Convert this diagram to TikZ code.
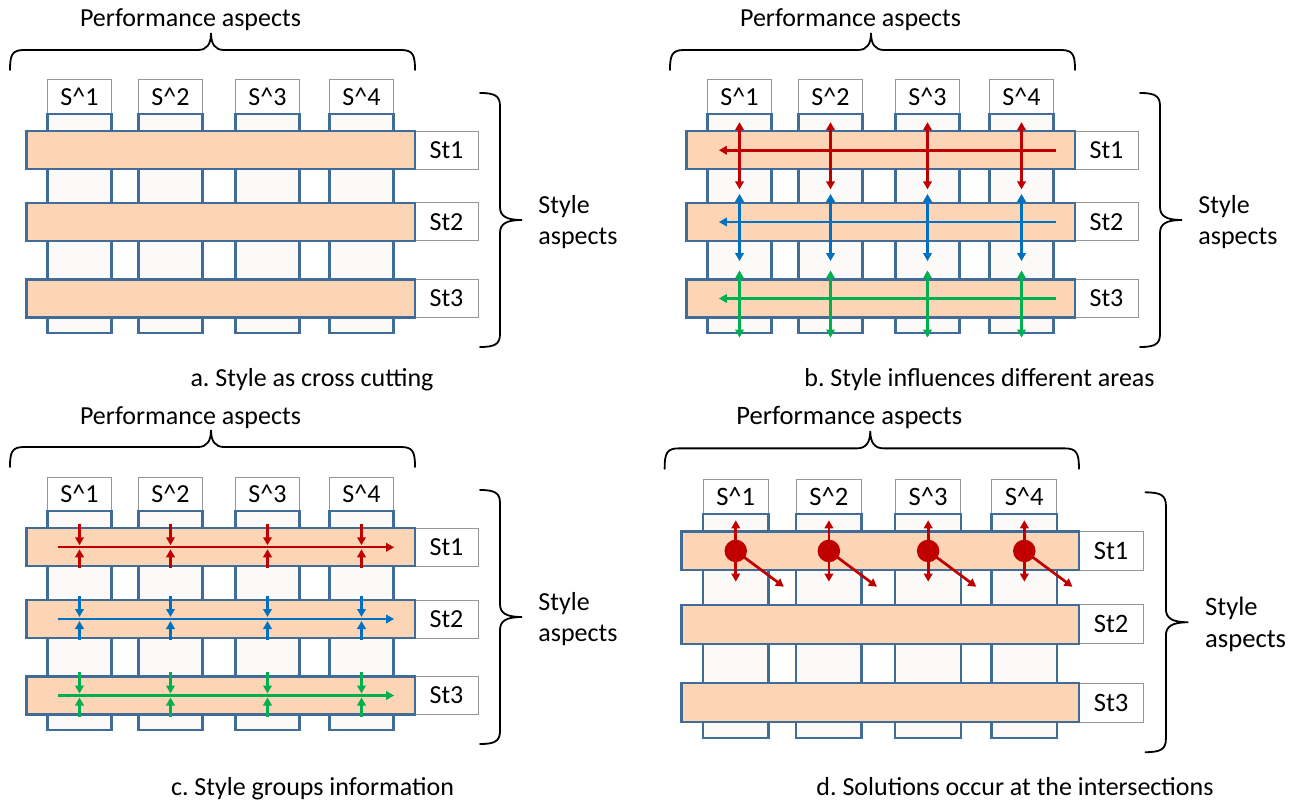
\documentclass[tikz,border=0pt]{standalone}
\usepackage{fontspec}
\setmainfont{Carlito}
\usepackage{tikz}
\usetikzlibrary{calc, arrows.meta}
\definecolor{peach}{RGB}{251, 213, 181}
\definecolor{rim}{RGB}{65, 108, 152}
\definecolor{pale}{RGB}{251, 250, 248}
\definecolor{frame}{RGB}{150, 150, 150}
\definecolor{redarr}{RGB}{192, 0, 0}
\definecolor{bluearr}{RGB}{0, 112, 192}
\definecolor{greenarr}{RGB}{0, 176, 80}

\tikzset{
  every node/.style={font=\fontsize{26}{31}\selectfont\frenchspacing, inner sep=0pt},
  sbox/.style={draw=frame, line width=1pt, fill=white, minimum width=64pt, minimum height=34pt},
  colbox/.style={draw=rim, line width=2.2pt, fill=pale, minimum width=64pt, minimum height=219pt},
  stbox/.style={draw=frame, line width=1pt, fill=white, minimum width=63pt, minimum height=38pt},
  rowbox/.style={draw=rim, line width=2.2pt, fill=peach, minimum width=388.5pt, minimum height=38pt},
  brace/.style={line width=1.8pt, line cap=round},
  flow/.style={line width=2.7pt, -{Triangle[length=8pt, width=8.5pt]}},
  both/.style={line width=2.7pt, {Triangle[length=8pt, width=8.5pt]}-{Triangle[length=8pt, width=8.5pt]}},
  dot/.style={circle, fill=redarr, minimum size=22pt}
}

% columns S^1..S^4 woven with rows St1..St3, plus both braces
\newcommand{\panelbase}{%
  \foreach \x [count=\i] in {79.5, 170.5, 267.5, 361.5} {
    \node[sbox] (s\i) at (\x, 97) {S\textasciicircum\i};
    \node[colbox] (c\i) at (\x, 223.5) {};
  }
  \foreach \y [count=\j] in {150.25, 222, 298.5} {
    \node[stbox] (st\j) at (446.5, \y) {St\j};
    \node[rowbox] (r\j) at (220.75, \y) {};
  }
  \draw[brace] (10, 70) .. controls (10, 55) and (12, 50) .. (24, 50) -- (198, 50)
    .. controls (207, 50) and (211, 44) .. (211, 33)
    .. controls (211, 44) and (215, 50) .. (224, 50) -- (401, 50)
    .. controls (413, 50) and (415, 55) .. (415, 70);
  \node[anchor=base] (perf) at (190.5, 27) {Performance aspects};
  \draw[brace] (480, 93) .. controls (495, 93) and (500, 96) .. (500, 106) -- (500, 207)
    .. controls (500, 216) and (506, 220) .. (522, 220)
    .. controls (506, 220) and (500, 224) .. (500, 233) -- (500, 334)
    .. controls (500, 344) and (495, 347) .. (480, 347);
  \node[align=left, anchor=west] (sty) at (538, 222) {Style\\aspects};
}

\begin{document}
\begin{tikzpicture}[x=1pt, y=-1pt, thick]
  \useasboundingbox (0, 0) rectangle (1292, 802);

  % a
  \begin{scope}[name prefix=a-]
    \panelbase
  \end{scope}

  % b
  \begin{scope}[shift={(660, 0)}, name prefix=b-]
    \panelbase
    \foreach \j/\col in {1/redarr, 2/bluearr, 3/greenarr} {
      \draw[flow, \col] ($(r\j.east)+(-20, 0)$) -- ($(r\j.west)+(33.5, 0)$);
      \foreach \i in {1, ..., 4}
        \draw[both, \col] ($(c\i |- r\j.north)+(0, -8)$) -- ($(c\i |- r\j.south)+(0, 19)$);
    }
  \end{scope}

  % c
  \begin{scope}[shift={(0, 397)}, name prefix=c-]
    \panelbase
    \foreach \j/\col in {1/redarr, 2/bluearr, 3/greenarr} {
      \draw[flow, \col, line width=2.4pt] ($(r\j.west)+(32.5, 0)$) -- ($(r\j.east)+(-22, 0)$);
      \foreach \i in {1, ..., 4} {
        \draw[flow, \col] ($(c\i |- r\j.north)+(0, -3)$) -- ($(c\i |- r\j.center)+(0, -2)$);
        \draw[flow, \col] ($(c\i |- r\j.south)+(0, 1)$) -- ($(c\i |- r\j.center)+(0, 2)$);
      }
    }
  \end{scope}

  % d
  \begin{scope}[shift={(654.4, 397.2)}, scale=1.023, transform shape, name prefix=d-]
    \panelbase
    \foreach \i in {1, ..., 4} {
      \node[dot] (p\i) at (c\i |- r1) {};
      \draw[both, redarr] ($(p\i)+(0, -30)$) -- ($(p\i)+(0, 30)$);
      \draw[flow, redarr] (p\i.center) -- ($(p\i)+(47, 35)$);
    }
  \end{scope}

  % captions
  \node[anchor=base] (capa) at (312, 386.5) {a. Style as cross cutting};
  \node[anchor=base] (capb) at (979.5, 386.5) {b. Style influences different areas};
  \node[anchor=base] (capc) at (312.5, 795) {c. Style groups information};
  \node[anchor=base] (capd) at (1015, 795) {d. Solutions occur at the intersections};
\end{tikzpicture}
\end{document}
